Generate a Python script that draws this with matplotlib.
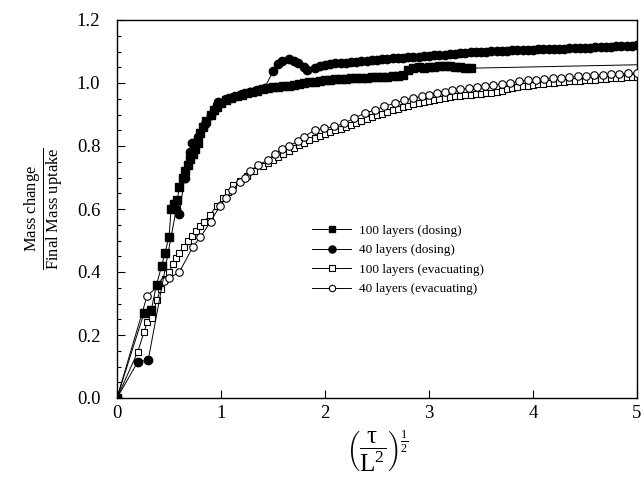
import matplotlib
matplotlib.use("Agg")
import matplotlib.pyplot as plt
from matplotlib.ticker import MultipleLocator

plt.rcParams['font.family'] = ['Liberation Serif', 'DejaVu Serif']
plt.rcParams['mathtext.fontset'] = 'custom'
plt.rcParams['mathtext.rm'] = 'Liberation Serif'
plt.rcParams['mathtext.it'] = 'Liberation Serif:italic'
plt.rcParams['mathtext.bf'] = 'Liberation Serif:bold'

# 100 layers (dosing) - filled squares
sq_dose_x = [0, 0.26, 0.33, 0.38, 0.43, 0.46, 0.50, 0.52, 0.55, 0.58, 0.60, 0.63, 0.65, 0.68,
             0.70, 0.73, 0.75, 0.78, 0.80, 0.83, 0.86, 0.90, 0.93, 0.96, 1.00, 1.05, 1.10,
             1.15, 1.20, 1.25, 1.30, 1.35, 1.40, 1.45, 1.50, 1.55, 1.60, 1.65, 1.70, 1.75,
             1.80, 1.85, 1.90, 1.95, 2.00, 2.05, 2.10, 2.15, 2.20, 2.25, 2.30, 2.35, 2.40,
             2.45, 2.50, 2.55, 2.60, 2.65, 2.70, 2.75, 2.80, 2.85, 2.90, 2.95, 3.00, 3.05,
             3.10, 3.15, 3.20, 3.25, 3.30, 3.35, 3.40, 5.60]
sq_dose_y = [0, 0.27, 0.28, 0.36, 0.42, 0.46, 0.51, 0.60, 0.615, 0.63, 0.67, 0.70, 0.72, 0.74,
             0.76, 0.775, 0.79, 0.81, 0.84, 0.86, 0.88, 0.90, 0.915, 0.925, 0.935, 0.945, 0.952,
             0.958, 0.963, 0.968, 0.972, 0.976, 0.980, 0.983, 0.986, 0.988, 0.990, 0.992, 0.995, 0.997,
             1.000, 1.002, 1.004, 1.006, 1.008, 1.010, 1.012, 1.014, 1.014, 1.015, 1.016, 1.016, 1.017,
             1.018, 1.018, 1.019, 1.020, 1.021, 1.022, 1.024, 1.040, 1.048, 1.050, 1.048, 1.050, 1.052,
             1.053, 1.055, 1.054, 1.052, 1.050, 1.048, 1.047, 1.062]

# 40 layers (dosing) - filled circles
ci_dose_x = [0, 0.20, 0.30, 0.57, 0.60, 0.65, 0.70, 0.72, 0.78, 0.85, 0.90, 0.97, 1.05, 1.12,
             1.20, 1.28, 1.35, 1.42, 1.50, 1.55, 1.59, 1.65, 1.70, 1.74, 1.80, 1.83, 1.90, 1.95,
             2.00, 2.05, 2.10, 2.15, 2.20, 2.25, 2.30, 2.35, 2.40, 2.45, 2.50, 2.55, 2.60, 2.65,
             2.70, 2.75, 2.80, 2.85, 2.90, 2.95, 3.00, 3.05, 3.10, 3.15, 3.20, 3.25, 3.30, 3.35,
             3.40, 3.45, 3.50, 3.55, 3.60, 3.65, 3.70, 3.75, 3.80, 3.85, 3.90, 3.95, 4.00, 4.05,
             4.10, 4.15, 4.20, 4.25, 4.30, 4.35, 4.40, 4.45, 4.50, 4.55, 4.60, 4.65, 4.70, 4.75,
             4.80, 4.85, 4.90, 4.95, 5.00]
ci_dose_y = [0, 0.115, 0.12, 0.60, 0.585, 0.70, 0.78, 0.81, 0.83, 0.87, 0.90, 0.94, 0.95, 0.955,
             0.965, 0.97, 0.978, 0.985, 1.037, 1.06, 1.07, 1.075, 1.07, 1.064, 1.05, 1.042, 1.048, 1.054,
             1.058, 1.060, 1.062, 1.064, 1.065, 1.066, 1.068, 1.069, 1.070, 1.072, 1.073, 1.075, 1.076, 1.078,
             1.079, 1.080, 1.081, 1.082, 1.084, 1.085, 1.086, 1.088, 1.089, 1.090, 1.092, 1.093, 1.094, 1.095,
             1.097, 1.098, 1.100, 1.100, 1.101, 1.102, 1.102, 1.103, 1.104, 1.105, 1.105, 1.106, 1.106, 1.107,
             1.107, 1.108, 1.108, 1.109, 1.109, 1.110, 1.110, 1.111, 1.112, 1.112, 1.113, 1.113, 1.114, 1.115,
             1.116, 1.117, 1.118, 1.118, 1.120]

# 100 layers (evacuating) - open squares
sq_evac_x = [0, 0.20, 0.26, 0.29, 0.34, 0.38, 0.42, 0.46, 0.50, 0.54, 0.57, 0.60, 0.64, 0.68,
             0.72, 0.76, 0.80, 0.84, 0.89, 0.96, 1.02, 1.07, 1.12, 1.18, 1.25, 1.32, 1.40, 1.45,
             1.50, 1.55, 1.60, 1.65, 1.70, 1.75, 1.80, 1.85, 1.90, 1.95, 2.00, 2.05, 2.10, 2.15,
             2.20, 2.25, 2.30, 2.35, 2.40, 2.45, 2.50, 2.55, 2.60, 2.65, 2.70, 2.75, 2.80, 2.85,
             2.90, 2.95, 3.00, 3.05, 3.10, 3.15, 3.20, 3.25, 3.30, 3.35, 3.40, 3.45, 3.50, 3.55,
             3.60, 3.65, 3.70, 3.75, 3.80, 3.85, 3.90, 3.95, 4.00, 4.05, 4.10, 4.15, 4.20, 4.25,
             4.30, 4.35, 4.40, 4.45, 4.50, 4.55, 4.60, 4.65, 4.70, 4.75, 4.80, 4.85, 4.90, 4.95, 5.00]
sq_evac_y = [0, 0.147, 0.21, 0.24, 0.255, 0.31, 0.345, 0.377, 0.40, 0.425, 0.445, 0.46, 0.48, 0.50,
             0.515, 0.53, 0.545, 0.56, 0.58, 0.61, 0.635, 0.655, 0.675, 0.69, 0.705, 0.72, 0.735, 0.745,
             0.755, 0.765, 0.775, 0.785, 0.795, 0.803, 0.810, 0.818, 0.825, 0.832, 0.838, 0.844, 0.850, 0.855,
             0.860, 0.867, 0.873, 0.880, 0.886, 0.892, 0.897, 0.902, 0.907, 0.913, 0.918, 0.923, 0.928, 0.932,
             0.936, 0.940, 0.944, 0.947, 0.950, 0.953, 0.955, 0.958, 0.960, 0.961, 0.963, 0.965, 0.966, 0.967,
             0.968, 0.970, 0.975, 0.980, 0.985, 0.987, 0.990, 0.992, 0.995, 0.996, 0.998, 0.999, 1.000, 1.002,
             1.003, 1.005, 1.006, 1.007, 1.008, 1.009, 1.010, 1.012, 1.013, 1.015, 1.016, 1.017, 1.018, 1.019, 1.020]

# 40 layers (evacuating) - open circles
ci_evac_x = [0, 0.29, 0.45, 0.50, 0.60, 0.73, 0.80, 0.90, 0.99, 1.05, 1.11, 1.18, 1.23, 1.28,
             1.36, 1.45, 1.52, 1.59, 1.65, 1.74, 1.80, 1.90, 1.99, 2.09, 2.18, 2.28, 2.38, 2.48,
             2.57, 2.67, 2.76, 2.85, 2.93, 3.00, 3.08, 3.15, 3.22, 3.30, 3.38, 3.46, 3.54, 3.62,
             3.70, 3.78, 3.87, 3.95, 4.03, 4.11, 4.19, 4.27, 4.35, 4.43, 4.51, 4.59, 4.67, 4.75,
             4.83, 4.91, 5.00]
ci_evac_y = [0, 0.325, 0.37, 0.38, 0.40, 0.48, 0.51, 0.56, 0.61, 0.635, 0.66, 0.687, 0.70, 0.72,
             0.74, 0.755, 0.776, 0.79, 0.80, 0.815, 0.83, 0.85, 0.856, 0.862, 0.872, 0.888, 0.904, 0.914,
             0.926, 0.936, 0.946, 0.952, 0.958, 0.963, 0.968, 0.973, 0.978, 0.980, 0.983, 0.988, 0.992, 0.994,
             0.997, 1.000, 1.006, 1.008, 1.010, 1.013, 1.015, 1.017, 1.019, 1.021, 1.023, 1.025, 1.026, 1.028,
             1.029, 1.031, 1.032]

labels = ['100 layers (dosing)', '40 layers (dosing)', '100 layers (evacuating)', '40 layers (evacuating)']

fig = plt.figure(figsize=(6.44, 4.99), dpi=100)
ax = fig.add_axes([117/644, 1 - 398/499, (637 - 117)/644, (398 - 20)/499])

lw = 0.7
ax.plot(sq_evac_x, sq_evac_y, '-s', color='black', lw=lw, ms=4.8, mfc='white', mec='black', mew=0.8, label=labels[2], zorder=2)
ax.plot(ci_evac_x, ci_evac_y, '-o', color='black', lw=lw, ms=5.4, mfc='white', mec='black', mew=0.8, label=labels[3], zorder=3)
ax.plot(sq_dose_x, sq_dose_y, '-s', color='black', lw=lw, ms=5.4, mfc='black', mec='black', label=labels[0], zorder=4)
ax.plot(ci_dose_x, ci_dose_y, '-o', color='black', lw=lw, ms=6.0, mfc='black', mec='black', label=labels[1], zorder=5)

ax.set_xlim(0, 5)
ax.set_ylim(0, 1.2)
ax.xaxis.set_major_locator(MultipleLocator(1))
ax.yaxis.set_major_locator(MultipleLocator(0.2))
ax.yaxis.set_minor_locator(MultipleLocator(0.05))
ax.tick_params(which='both', direction='in', top=False, right=False, labelsize=13.5, width=0.8)
ax.tick_params(which='major', length=6)
ax.tick_params(axis='x', which='major', pad=5)
ax.tick_params(axis='y', which='major', pad=12)
ax.tick_params(which='minor', length=3)
ax.set_yticklabels(['%.1f' % v for v in ax.get_yticks()])
ax.set_xticklabels(['%d' % v for v in ax.get_xticks()])
for s in ax.spines.values():
    s.set_linewidth(1.0)

ax.set_ylabel(r'$\frac{\mathrm{Mass\ change}}{\mathrm{Final\ Mass\ uptake}}$', fontsize=17, labelpad=8)
ax.set_xlabel(r'$\left(\dfrac{\mathrm{\tau}}{\mathrm{L}^2}\right)^{\frac{1}{2}}$', fontsize=18, labelpad=5)

h, l = ax.get_legend_handles_labels()
order = [2, 3, 0, 1]
leg = ax.legend([h[i] for i in order], [l[i] for i in order], loc='upper left',
                bbox_to_anchor=(0.352, 0.49), frameon=False, fontsize=9.5,
                handlelength=3.0, labelspacing=0.55, handletextpad=0.6, markerscale=0.85)

fig.savefig('out.png', dpi=100)
